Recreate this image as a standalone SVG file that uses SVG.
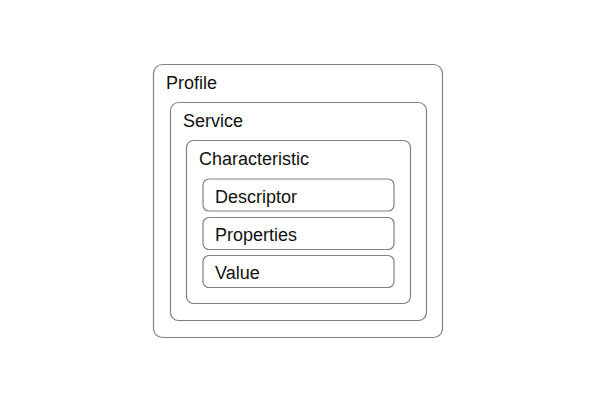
<svg xmlns="http://www.w3.org/2000/svg" width="600" height="400" viewBox="0 0 600 400">
<style>
rect{fill:none;stroke:#808080;stroke-width:1.2}
text{font-family:"Liberation Sans",Arial,sans-serif;font-size:18px;fill:#111}
</style>
<rect x="0" y="0" width="600" height="400" style="fill:#fff;stroke:none"/>
<g id="profile"><rect x="153.5" y="64.5" width="289" height="273" rx="9"/><text x="166" y="88.5">Profile</text></g>
<g id="service"><rect x="170.5" y="102.5" width="256" height="218" rx="8"/><text x="183" y="126.5">Service</text></g>
<g id="characteristic"><rect x="186.5" y="140.5" width="224" height="163" rx="7"/><text x="199" y="164.5">Characteristic</text></g>
<g id="descriptor"><rect x="203" y="179" width="191" height="32" rx="6"/><text x="215" y="202.5">Descriptor</text></g>
<g id="properties"><rect x="203" y="217.5" width="191" height="32" rx="6"/><text x="215" y="240.5">Properties</text></g>
<g id="value"><rect x="203" y="255.5" width="191" height="32" rx="6"/><text x="215" y="278.5">Value</text></g>
<g id="connectors"></g>
</svg>
